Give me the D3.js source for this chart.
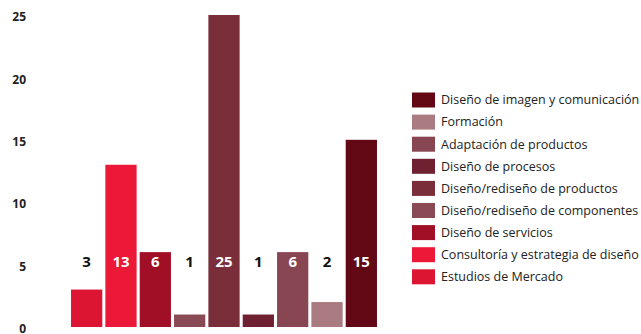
<!DOCTYPE html>
<html>
<head>
  <script src="https://d3js.org/d3.v7.min.js"></script>
  <style>
    body { margin: 0; background: #fff; overflow: hidden; }
    text { font-family: "Open Sans", sans-serif; }
  </style>
</head>
<body>
  <script>
    const categories = [
      "Estudios de Mercado",
      "Consultoría y estrategia de diseño",
      "Diseño de servicios",
      "Diseño/rediseño de componentes",
      "Diseño/rediseño de productos",
      "Diseño de procesos",
      "Adaptación de productos",
      "Formación",
      "Diseño de imagen y comunicación"
    ];
    const values = [3, 13, 6, 1, 25, 1, 6, 2, 15];
    const colors = ["#dc1532", "#ec1837", "#a00f26", "#8a4a55", "#7a2e3a", "#6f2132", "#874652", "#aa7c82", "#630916"];
    const yTicks = [0, 5, 10, 15, 20, 25];

    const width = 641, height = 334;
    const svg = d3.select("body").append("svg")
      .attr("width", width)
      .attr("height", height);

    const x = d3.scaleBand()
      .domain(categories)
      .range([70, 378])
      .paddingInner(0.09)
      .paddingOuter(0.03);

    const y = d3.scaleLinear()
      .domain([0, 25])
      .range([327, 15]);

    // y axis labels only
    const yAxis = svg.append("g")
      .attr("transform", "translate(26,2)")
      .call(d3.axisLeft(y).tickValues(yTicks).tickSize(0).tickPadding(0));
    yAxis.select(".domain").remove();
    yAxis.selectAll("text")
      .attr("font-family", "Open Sans, sans-serif")
      .attr("font-size", 12)
      .attr("font-weight", "bold")
      .attr("fill", "#222")
      .attr("dy", "0.3em");

    // bars
    svg.append("g")
      .selectAll("rect")
      .data(categories)
      .enter().append("rect")
      .attr("x", d => x(d))
      .attr("width", x.bandwidth())
      .attr("y", (d, i) => y(values[i]))
      .attr("height", (d, i) => y(0) - y(values[i]))
      .attr("fill", (d, i) => colors[i]);

    // value labels at a fixed height
    const labelY = 262;
    svg.append("g")
      .selectAll("text")
      .data(categories)
      .enter().append("text")
      .attr("x", d => x(d) + x.bandwidth() / 2)
      .attr("y", labelY)
      .attr("dy", "0.35em")
      .attr("text-anchor", "middle")
      .attr("font-size", 15)
      .attr("font-weight", "bold")
      .attr("fill", (d, i) => y(values[i]) < labelY - 8 ? "#fff" : "#111")
      .text((d, i) => values[i]);

    // legend, reversed order
    const legend = svg.append("g")
      .selectAll("g")
      .data(categories.slice().reverse())
      .enter().append("g")
      .attr("transform", (d, i) => `translate(412,${100 + i * 22.1})`);

    legend.append("rect")
      .attr("y", -7.5)
      .attr("width", 23)
      .attr("height", 15)
      .attr("fill", d => colors[categories.indexOf(d)]);

    legend.append("text")
      .attr("x", 29)
      .attr("dy", "0.35em")
      .attr("font-size", 12.5)
      .attr("fill", "#222")
      .text(d => d);
  </script>
</body>
</html>
